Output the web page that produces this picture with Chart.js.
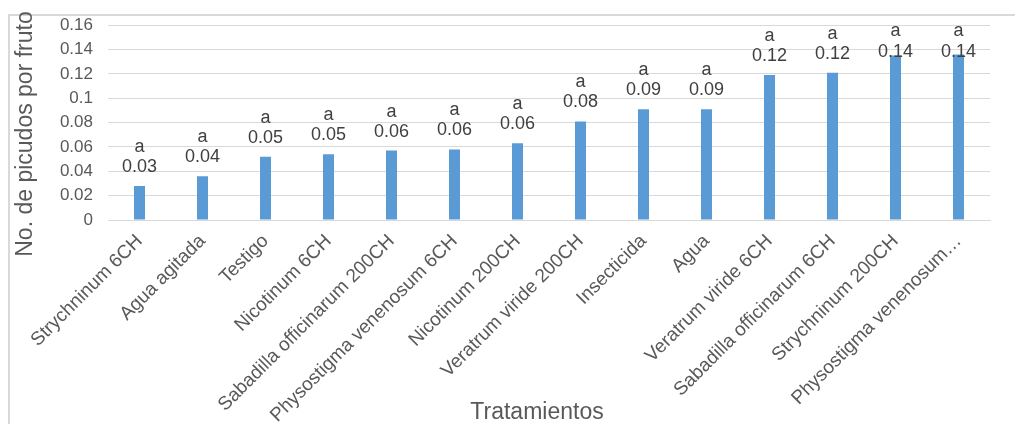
<!DOCTYPE html>
<html>
<head>
<meta charset="utf-8">
<script src="https://cdn.jsdelivr.net/npm/chart.js@4/dist/chart.umd.min.js"></script>
<style>
  html, body { margin: 0; padding: 0; background: #fff; overflow: hidden; }
  #wrap { position: relative; width: 1015px; height: 424px; }
</style>
</head>
<body>
<div id="wrap"><canvas id="c"></canvas></div>
<script>
// Treatments, ordered from lowest to highest mean
const categories = [
  'Strychninum 6CH', 'Agua agitada', 'Testigo', 'Nicotinum 6CH',
  'Sabadilla officinarum 200CH', 'Physostigma venenosum 6CH', 'Nicotinum 200CH',
  'Veratrum viride 200CH', 'Insecticida', 'Agua', 'Veratrum viride 6CH',
  'Sabadilla officinarum 6CH', 'Strychninum 200CH', 'Physostigma venenosum…'
];
// Mean number of weevils per fruit
const values = [0.028, 0.036, 0.052, 0.054, 0.057, 0.058, 0.063,
                0.081, 0.091, 0.091, 0.119, 0.121, 0.1352, 0.136];
// Significance group letters
const groupLetters = ['a', 'a', 'a', 'a', 'a', 'a', 'a', 'a', 'a', 'a', 'a', 'a', 'a', 'a'];
const yTickValues = [0, 0.02, 0.04, 0.06, 0.08, 0.1, 0.12, 0.14, 0.16];
const yTitle = 'No. de picudos por fruto';
const xTitle = 'Tratamientos';

const FONT = '"Liberation Sans", Arial, sans-serif';

const framePlugin = {
  id: 'frame',
  beforeDraw(chart) {
    const ctx = chart.ctx;
    ctx.save();
    ctx.fillStyle = '#ffffff';
    ctx.fillRect(0, 0, chart.width, chart.height);
    ctx.strokeStyle = '#d9d9d9';
    ctx.lineWidth = 2;
    ctx.strokeRect(9, 15, chart.width + 20, chart.height + 20);
    ctx.restore();
  }
};

const labelPlugin = {
  id: 'barLabels',
  afterDatasetsDraw(chart) {
    const ctx = chart.ctx;
    const top = chart.chartArea.top;
    const meta = chart.getDatasetMeta(0);
    ctx.save();
    ctx.font = '18px ' + FONT;
    ctx.fillStyle = '#404040';
    ctx.textAlign = 'center';
    ctx.textBaseline = 'middle';
    meta.data.forEach((bar, i) => {
      let vy = bar.y - 20;
      let ly = vy - 20;
      if (ly < top + 5) { ly = top + 5; vy = ly + 21; }
      ctx.fillText(groupLetters[i], bar.x, ly + 1);
      ctx.fillText(values[i].toFixed(2), bar.x, vy + 1);
    });
    ctx.restore();
  }
};

const titlePlugin = {
  id: 'axisTitles',
  afterDraw(chart) {
    const ctx = chart.ctx;
    ctx.save();
    ctx.font = '23px ' + FONT;
    ctx.fillStyle = '#595959';
    ctx.textAlign = 'center';
    ctx.textBaseline = 'middle';
    ctx.fillText(xTitle, 537, 413);
    ctx.translate(26, 134);
    ctx.rotate(-Math.PI / 2);
    ctx.fillText(yTitle, 0, 0);
    ctx.restore();
  }
};

new Chart(document.getElementById('c'), {
  type: 'bar',
  data: {
    labels: categories,
    datasets: [{
      data: values,
      backgroundColor: '#5b9bd5',
      borderWidth: 0,
      categoryPercentage: 1,
      barPercentage: 0.175
    }]
  },
  options: {
    responsive: true,
    maintainAspectRatio: false,
    animation: false,
    events: [],
    layout: { padding: { left: 0, right: 25, top: 25, bottom: 0 } },
    plugins: { legend: { display: false }, tooltip: { enabled: false } },
    scales: {
      x: {
        grid: { display: false, drawTicks: false },
        border: { display: true, color: '#d9d9d9', width: 1 },
        ticks: {
          autoSkip: false,
          minRotation: 45,
          maxRotation: 45,
          padding: 10,
          color: '#595959',
          font: { family: FONT, size: 19 }
        },
        afterFit(scale) { scale.height = 204; }
      },
      y: {
        min: 0,
        max: 0.16,
        grid: { color: '#d9d9d9', lineWidth: 1, drawTicks: false },
        border: { display: false },
        afterBuildTicks(scale) { scale.ticks = yTickValues.map(v => ({ value: v })); },
        ticks: {
          padding: 15,
          color: '#595959',
          font: { family: FONT, size: 17 },
          callback: v => String(+Number(v).toFixed(2))
        },
        afterFit(scale) { scale.width = 108; }
      }
    }
  },
  plugins: [framePlugin, labelPlugin, titlePlugin]
});
</script>
</body>
</html>
